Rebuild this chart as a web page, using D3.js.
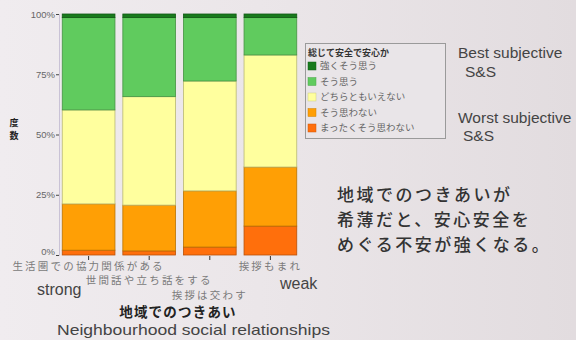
<!DOCTYPE html>
<html>
<head>
<meta charset="utf-8">
<script src="https://cdn.jsdelivr.net/npm/d3@7"></script>
<style>
  html, body { margin: 0; padding: 0; }
  body { width: 576px; height: 340px; overflow: hidden; }
  svg { display: block; }
</style>
</head>
<body>
<svg id="chart" width="576" height="340"></svg>
<script>
// Neighbourhood relationship categories (strong → weak)
const categories = ["生活圏での協力関係がある", "世間話や立ち話をする", "挨拶は交わす", "挨拶もまれ"];

// Response categories for 総じて安全で安心か, bottom to top of each bar
const responses = ["まったくそう思わない", "そう思わない", "どちらともいえない", "そう思う", "強くそう思う"];
const colors = ["#ff6f0c", "#ff9f05", "#ffff9e", "#60cb5e", "#187a1c"];

// Percentages per response, one value per category
const vNotAtAll = [2.0, 1.7, 3.3, 12.0];
const vDisagree = [19.2, 19.0, 23.3, 24.5];
const vNeutral  = [39.0, 45.0, 45.6, 46.5];
const vAgree    = [38.3, 32.8, 26.3, 15.5];
const vStrongly = [1.5, 1.5, 1.5, 1.5];

const yTicks = [0, 25, 50, 75, 100];
const yTickLabels = ["0%", "25%", "50%", "75%", "100%"];

const series = [vNotAtAll, vDisagree, vNeutral, vAgree, vStrongly];
const rows = categories.map((c, i) => {
  const r = { cat: c };
  responses.forEach((k, j) => { r[k] = series[j][i]; });
  return r;
});

const svg = d3.select("#chart");
const sans = "Liberation Sans, Arial, sans-serif";
const cjk = "Noto Sans CJK JP, sans-serif";

// background
const defs = svg.append("defs");
const bg = defs.append("linearGradient").attr("id", "bg").attr("x1", 0).attr("x2", 1).attr("y1", 0).attr("y2", 0);
bg.append("stop").attr("offset", "0%").attr("stop-color", "#f0ecef");
bg.append("stop").attr("offset", "45%").attr("stop-color", "#ebe6e9");
bg.append("stop").attr("offset", "100%").attr("stop-color", "#e2dcdf");
svg.append("rect").attr("width", 576).attr("height", 340).attr("fill", "url(#bg)");

const x = d3.scaleBand().domain(categories).range([58, 301]).paddingInner(0.13).paddingOuter(0.07);
const y = d3.scaleLinear().domain([0, 100]).range([255, 14]);

const stacked = d3.stack().keys(responses)(rows);

// stacked bars
svg.append("g").selectAll("g")
  .data(stacked)
  .join("g")
  .attr("fill", (d, i) => colors[i])
  .attr("stroke", (d, i) => d3.color(colors[i]).darker(0.9))
  .attr("stroke-width", 0.8)
  .selectAll("rect")
  .data(d => d)
  .join("rect")
  .attr("x", d => x(d.data.cat))
  .attr("width", x.bandwidth())
  .attr("y", d => y(d[1]))
  .attr("height", d => y(d[0]) - y(d[1]));

// y axis
const yAxis = svg.append("g")
  .attr("transform", "translate(59,0)")
  .call(d3.axisLeft(y).tickValues(yTicks).tickFormat((d, i) => yTickLabels[i]).tickSize(3).tickPadding(1));
yAxis.select(".domain").attr("stroke", "#c9c2d6").attr("stroke-width", 1);
yAxis.selectAll(".tick line").attr("stroke", "#444");
yAxis.selectAll(".tick text").attr("fill", "#666").attr("font-size", "9.5px").attr("font-family", sans);
yAxis.selectAll(".tick").filter(d => d === 0).select("text").attr("dy", "-0.1em");

// x axis ticks
const xAxis = svg.append("g")
  .attr("transform", "translate(0,256)")
  .call(d3.axisBottom(x).tickSize(4).tickFormat(""));
xAxis.select(".domain").remove();
xAxis.selectAll(".tick line").attr("stroke", "#333");

// staggered category labels
const labelY = [266, 280, 295, 266];
svg.append("g").selectAll("text")
  .data(categories)
  .join("text")
  .attr("x", d => x(d) + x.bandwidth() / 2)
  .attr("y", (d, i) => labelY[i])
  .attr("dy", "0.35em")
  .attr("text-anchor", "middle")
  .attr("font-family", cjk)
  .attr("font-size", "10.5px")
  .attr("letter-spacing", "2.2px")
  .attr("fill", "#7a7a7a")
  .text(d => d);

// y axis title, written vertically
svg.append("text").attr("x", 14).attr("y", 123).attr("text-anchor", "middle").attr("dy", "0.35em")
  .attr("font-family", cjk).attr("font-weight", "bold").attr("font-size", "9px").attr("fill", "#222").text("度");
svg.append("text").attr("x", 14).attr("y", 136).attr("text-anchor", "middle").attr("dy", "0.35em")
  .attr("font-family", cjk).attr("font-weight", "bold").attr("font-size", "9px").attr("fill", "#222").text("数");

// strong / weak
svg.append("text").attr("x", 37).attr("y", 289).attr("dy", "0.35em")
  .attr("font-family", sans).attr("font-size", "16px").attr("fill", "#444").text("strong");
svg.append("text").attr("x", 280).attr("y", 283).attr("dy", "0.35em")
  .attr("font-family", sans).attr("font-size", "16px").attr("fill", "#444").text("weak");

// x axis titles
svg.append("text").attr("x", 178).attr("y", 312).attr("dy", "0.35em").attr("text-anchor", "middle")
  .attr("font-family", cjk).attr("font-weight", "bold").attr("font-size", "13.5px").attr("letter-spacing", "1.2px")
  .attr("fill", "#222")
  .text("地域でのつきあい");
svg.append("text").attr("x", 57).attr("y", 330).attr("dy", "0.35em")
  .attr("font-family", sans).attr("font-size", "15px").attr("fill", "#444")
  .attr("textLength", 273).attr("lengthAdjust", "spacingAndGlyphs")
  .text("Neighbourhood social relationships");

// legend
const lg = svg.append("g");
lg.append("rect").attr("x", 305.5).attr("y", 43.5).attr("width", 140).attr("height", 95)
  .attr("fill", "#e9e5e8").attr("stroke", "#9a9a9a");
lg.append("text").attr("x", 308).attr("y", 53).attr("dy", "0.35em")
  .attr("font-family", cjk).attr("font-weight", "bold").attr("font-size", "9px").attr("fill", "#333")
  .text("総じて安全で安心か");
const legendItems = responses.slice().reverse();
const legendColors = colors.slice().reverse();
const ly = d3.scalePoint().domain(legendItems).range([66, 128]);
legendItems.forEach((k, i) => {
  lg.append("rect").attr("x", 308).attr("y", ly(k) - 4).attr("width", 8).attr("height", 8)
    .attr("fill", legendColors[i]).attr("stroke", d3.color(legendColors[i]).darker(0.6)).attr("stroke-width", 0.5);
  lg.append("text").attr("x", 320).attr("y", ly(k)).attr("dy", "0.35em")
    .attr("font-family", cjk).attr("font-size", "9.5px").attr("fill", "#666").text(k);
});

// best / worst annotations
const ann = [["Best subjective", 458, 53], ["S&S", 465, 72], ["Worst subjective", 458, 118], ["S&S", 463, 136]];
svg.append("g").selectAll("text").data(ann).join("text")
  .attr("x", d => d[1]).attr("y", d => d[2]).attr("dy", "0.35em")
  .attr("font-family", sans).attr("font-size", "15.5px").attr("fill", "#444").text(d => d[0]);

// message
const msg = ["地域でのつきあいが", "希薄だと、安心安全を", "めぐる不安が強くなる。"];
svg.append("g").selectAll("text").data(msg).join("text")
  .attr("x", 337).attr("y", (d, i) => 195 + i * 25).attr("dy", "0.35em")
  .attr("font-family", cjk).attr("font-weight", "500").attr("font-size", "17px").attr("letter-spacing", "2.5px")
  .attr("fill", "#333").text(d => d);
</script>
</body>
</html>
